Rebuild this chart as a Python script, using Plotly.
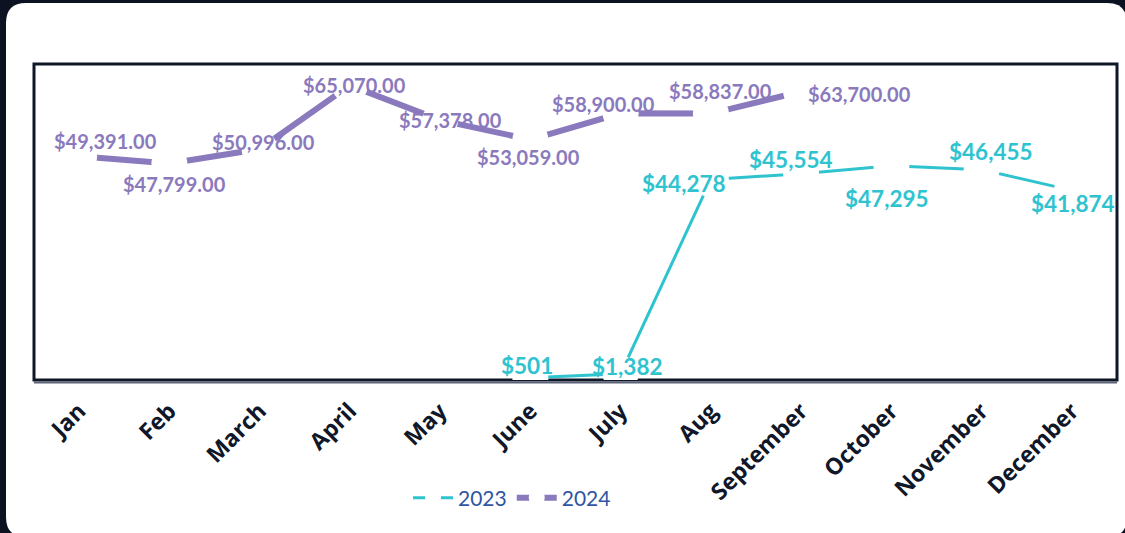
import plotly.graph_objects as go

months = ["Jan", "Feb", "March", "April", "May", "June", "July", "Aug",
          "September", "October", "November", "December"]
sales_2023 = [None, None, None, None, None, 501, 1382, 44278, 45554, 47295, 46455, 41874]
sales_2024 = [49391, 47799, 50996, 65070, 57378, 53059, 58900, 58837, 63700, None, None, None]

# label offsets in pixels (style only)
off_2023 = [None, None, None, None, None, (-3, 12), (7, 7), (-27, -4), (-10, 14), (-4, -33), (9, 18), (1, -13)]
off_2024 = [(26, 15), (5, -20), (4, 7), (5, 0), (10, 0), (-2, -17), (-17, 9), (10, 23), (58, -2), None, None, None]

C23 = "#2ec3cf"
C24 = "#8a7abd"
NAVY = "#0c1222"

W, H = 1125, 533
L, R, T, B = 34, 8, 63, 153
PW, PH = W - L - R, H - T - B


def px(x):
    return (x - L) / PW


def py(y):
    return (H - B - y) / PH


fig = go.Figure()
fig.add_trace(go.Scatter(
    x=months, y=sales_2023, name="2023", mode="lines+markers",
    line=dict(color=C23, width=3),
    marker=dict(color="white", size=36, line=dict(width=0)),
))
fig.add_trace(go.Scatter(
    x=months, y=sales_2024, name="2024", mode="lines+markers",
    line=dict(color=C24, width=6),
    marker=dict(color="white", size=36, line=dict(width=0)),
))

ann = []
for m, v, o in zip(months, sales_2023, off_2023):
    if v is None:
        continue
    ann.append(dict(x=m, y=v, text=f"${v:,.0f}", showarrow=False,
                    xshift=o[0], yshift=o[1],
                    font=dict(family="Lato", size=22.5, color=C23, weight="bold")))
for m, v, o in zip(months, sales_2024, off_2024):
    if v is None:
        continue
    ann.append(dict(x=m, y=v, text=f"${v:,.2f}", showarrow=False,
                    xshift=o[0], yshift=o[1],
                    font=dict(family="Lato", size=20, color=C24, weight="bold")))

# white rounded panel
x0, x1, y0, y1, r = 6, 1127, 3, 537, 20
path = (f"M {px(x0 + r)},{py(y0)} L {px(x1 - r)},{py(y0)} Q {px(x1)},{py(y0)} {px(x1)},{py(y0 + r)} "
        f"L {px(x1)},{py(y1 - r)} Q {px(x1)},{py(y1)} {px(x1 - r)},{py(y1)} "
        f"L {px(x0 + r)},{py(y1)} Q {px(x0)},{py(y1)} {px(x0)},{py(y1 - r)} "
        f"L {px(x0)},{py(y0 + r)} Q {px(x0)},{py(y0)} {px(x0 + r)},{py(y0)} Z")
shapes = [
    dict(type="path", path=path, xref="paper", yref="paper", fillcolor="white",
         line=dict(width=0), layer="below"),
    dict(type="rect", xref="paper", yref="paper", x0=px(34), x1=px(1117), y0=py(380), y1=py(64),
         line=dict(color="#0f1729", width=3), fillcolor="rgba(0,0,0,0)", layer="below"),
    dict(type="line", xref="paper", yref="paper", x0=px(34), x1=px(1117), y0=py(382.5), y1=py(382.5),
         line=dict(color="#5c6379", width=2), layer="below"),
]

fig.update_layout(
    width=W, height=H,
    margin=dict(l=L, r=R, t=T, b=B),
    paper_bgcolor=NAVY, plot_bgcolor="rgba(0,0,0,0)",
    shapes=shapes, annotations=ann,
    showlegend=True,
    legend=dict(orientation="h", x=px(512), y=py(498), xanchor="center", yanchor="middle",
                font=dict(family="Lato", size=21, color="#2f55a4"),
                bgcolor="rgba(0,0,0,0)", itemwidth=40, tracegroupgap=0),
    xaxis=dict(type="category", range=[-0.5, 11.5], showgrid=False, zeroline=False, showline=False,
               ticks="", tickangle=-45, ticklabelstandoff=12,
               tickfont=dict(family="Open Sans", size=23, color="#0f1729", weight="bold")),
    yaxis=dict(range=[0, 70000], showgrid=False, zeroline=False, showline=False,
               showticklabels=False, ticks=""),
)

fig.write_html("out.html", config={"displayModeBar": False},
               post_script="document.body.style.margin='0';document.body.style.overflow='hidden';")
